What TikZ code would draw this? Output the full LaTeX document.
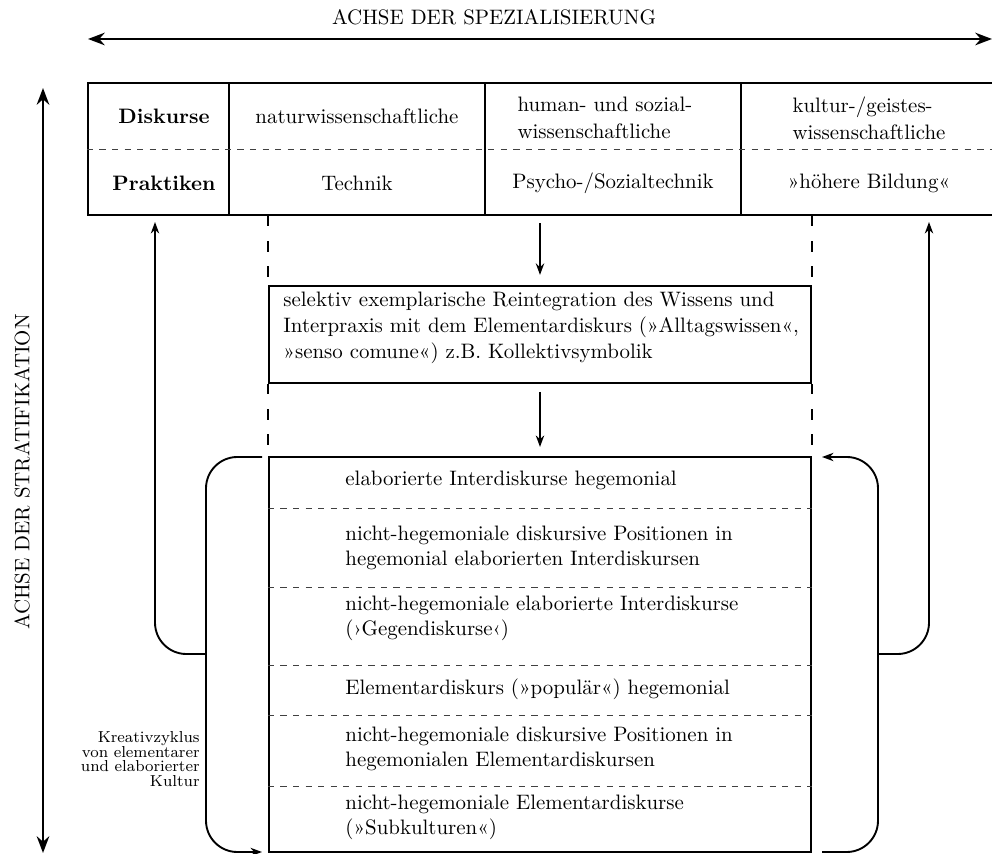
\documentclass[tikz,border=0pt]{standalone}
\usepackage{fontspec}
\usetikzlibrary{arrows.meta}
\begin{document}
\begin{tikzpicture}[x=0.4785pt,y=-0.4785pt,
  axis/.style={line width=1.2pt,{Stealth[length=8pt,width=6pt]}-{Stealth[length=8pt,width=6pt]}},
  conn/.style={line width=0.9pt,-{Stealth[length=5.5pt,width=4pt]}},
  bracket/.style={line width=0.9pt,rounded corners=15pt},
  frame/.style={draw,line width=1pt,inner sep=0pt},
  colline/.style={line width=0.6pt},
  sep/.style={line width=0.4pt,dash pattern=on 3pt off 3pt,black!75},
  guide/.style={line width=0.9pt,dash pattern=on 5pt off 7pt},
  cell/.style={inner sep=0pt,align=left},
  row/.style={inner sep=0pt,anchor=west,align=left},
]
\useasboundingbox (0,0) rectangle (992,854);

% axes
\coordinate (hl) at (88,39);
\coordinate (hr) at (992,39);
\draw[axis] (hl) -- (hr);
\node[inner sep=0pt] (htitle) at (494,17) {ACHSE DER SPEZIALISIERUNG};
\coordinate (vt) at (43,88);
\coordinate (vb) at (43,853);
\draw[axis] (vt) -- (vb);
\node[inner sep=0pt,rotate=90] (vtitle) at (22,472) {ACHSE DER STRATIFIKATION};

% table
\node[frame,minimum width=906*0.4785pt,minimum height=132*0.4785pt] (tab) at (541,149) {};
\draw[colline] (229,83) -- (229,215);
\draw[colline] (485,83) -- (485,215);
\draw[colline] (741,83) -- (741,215);
\draw[sep] (tab.west) -- (tab.east);
\node[cell,font=\bfseries] (d0) at (164,116) {Diskurse};
\node[cell,font=\bfseries] (p0) at (164,183) {Praktiken};
\node[cell] (d1) at (357,116) {naturwissenschaftliche};
\node[cell] (p1) at (357,183) {Technik};
\node[cell,font={\linespread{1.08}\selectfont}] (d2) at (605,118) {human- und sozial-\\wissenschaftliche};
\node[cell] (p2) at (613,183) {Psycho-/Sozialtechnik};
\node[cell,font={\linespread{1.08}\selectfont}] (d3) at (869,118) {kultur-/geistes-\\wissenschaftliche};
\node[cell] (p3) at (869,183) {»höhere Bildung«};

% middle box
\node[frame,minimum width=542*0.4785pt,minimum height=97*0.4785pt] (mid) at (540,334.5) {};
\node[row,font={\linespread{1.05}\selectfont}] (midtext) at (283,328) {selektiv exemplarische Reintegration des Wissens und\\
Interpraxis mit dem Elementardiskurs (»Alltagswissen«,\\
»senso comune«) z.B. Kollektivsymbolik};

% stack
\node[frame,minimum width=542*0.4785pt,minimum height=395*0.4785pt] (stack) at (540,654.5) {};
\foreach \yy in {508,587,665,715,786}
  \draw[sep] (stack.west |- 0,\yy) -- (stack.east |- 0,\yy);
\node[row] (r1) at (345,480) {elaborierte Interdiskurse hegemonial};
\node[row] (r2) at (345,548) {nicht-hegemoniale diskursive Positionen in\\hegemonial elaborierten Interdiskursen};
\node[row] (r3) at (345,618) {nicht-hegemoniale elaborierte Interdiskurse\\(›Gegendiskurse‹)};
\node[row] (r4) at (345,689) {Elementardiskurs (»populär«) hegemonial};
\node[row] (r5) at (345,749) {nicht-hegemoniale diskursive Positionen in\\hegemonialen Elementardiskursen};
\node[row] (r6) at (345,817) {nicht-hegemoniale Elementardiskurse\\(»Subkulturen«)};

% dashed guides
\draw[guide] (mid.west |- tab.south) -- (mid.north west);
\draw[guide] (mid.south west) -- (stack.north west);
\draw[guide] (mid.east |- tab.south) -- (mid.north east);
\draw[guide] (mid.south east) -- (stack.north east);

% vertical arrows
\draw[conn,shorten <=3.5pt,shorten >=4.8pt] (tab.south -| mid.north) -- (mid.north);
\draw[conn,shorten <=3.8pt,shorten >=4.3pt] (mid.south) -- (stack.north);

% left bracket
\coordinate (lbtop) at (262,457);
\coordinate (lbmid) at (206,654);
\coordinate (lbbot) at (262,852);
\draw[bracket,-{Stealth[length=5.5pt,width=4pt]}] (lbtop) -| (lbmid) |- (lbbot);
\coordinate (lup) at (155,222);
\draw[conn,rounded corners=15pt] (lbmid) -| (lup);

% right bracket
\coordinate (rbbot) at (822,852);
\coordinate (rbmid) at (878,654);
\coordinate (rbtop) at (822,457);
\draw[bracket,-{Stealth[length=5.5pt,width=4pt]}] (rbbot) -| (rbmid) |- (rbtop);
\coordinate (rup) at (929,222);
\draw[conn,rounded corners=15pt] (rbmid) -| (rup);

% label
\node[inner sep=0pt,anchor=east,align=right,font={\fontsize{7.6}{7.1}\selectfont}] (kreativ) at (200,759)
  {Kreativzyklus\\von elementarer\\und elaborierter\\Kultur};
\end{tikzpicture}
\end{document}
